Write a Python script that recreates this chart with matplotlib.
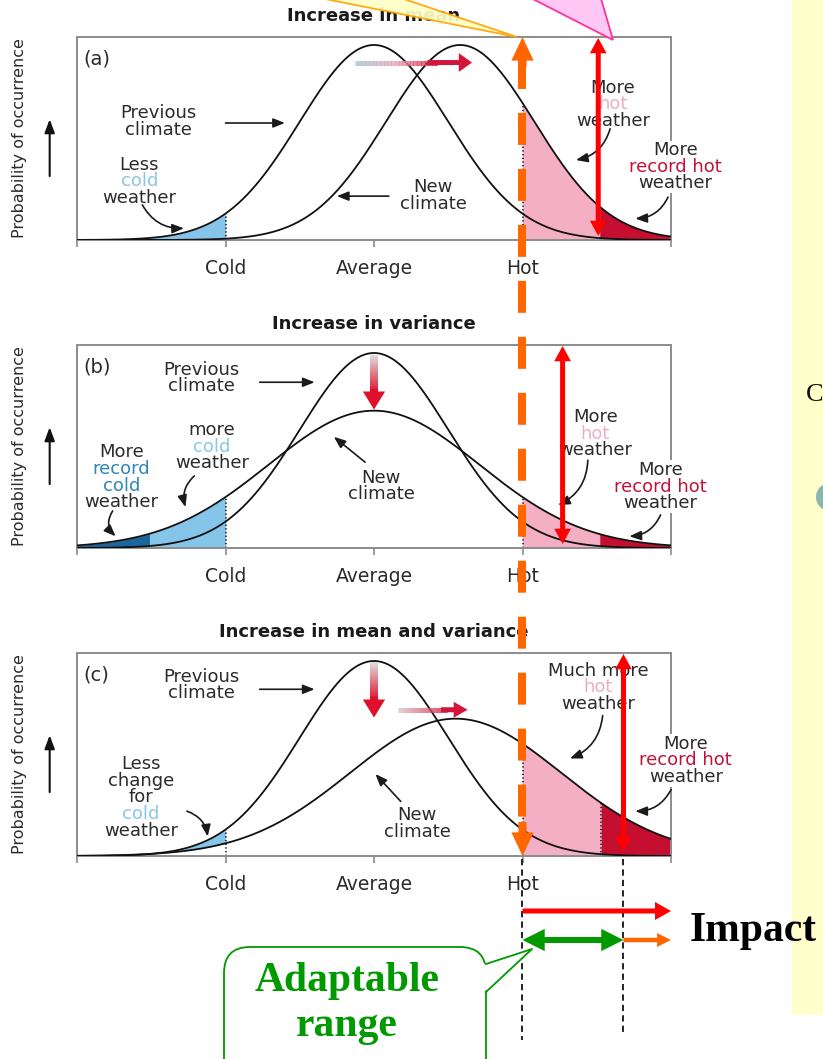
import numpy as np
import matplotlib.pyplot as plt
from matplotlib.patches import FancyArrowPatch, ArrowStyle, Polygon, Rectangle, FancyBboxPatch, Circle
from matplotlib.collections import LineCollection
from matplotlib.colors import LinearSegmentedColormap

plt.rcParams['font.family'] = ['DejaVu Sans']
plt.rcParams['lines.scale_dashes'] = False

# --- data -------------------------------------------------------------
titles = ['Increase in mean', 'Increase in variance', 'Increase in mean and variance']
tags = ['(a)', '(b)', '(c)']
prev_mean = [0.0, 0.0, 0.0]
prev_sd = [0.5, 0.5, 0.5]
new_mean = [0.58, 0.0, 0.55]
new_sd = [0.5, 0.71, 0.71]
tick_pos = [-2, -1, 0, 1, 2]
tick_names = ['', 'Cold', 'Average', 'Hot', '']
cold_end = -1.0
hot_start = 1.0
record_hot = [1.52, 1.52, 1.53]
record_cold = -1.51          # only panel (b)
impact_x = [1.51, 1.27, 1.68]  # red double arrows

# --- colours ----------------------------------------------------------
TXT = '#2b2b2b'
FRAME = '#8c8c8c'
LIGHT_BLUE = '#86c5ea'
DARK_BLUE = '#1b669f'
PINK = '#f4afc4'
DARK_RED = '#c40f30'
COLD = '#8cc6e6'
HOT = '#f0adc2'
REC_HOT = '#c4123a'
REC_COLD = '#2f86b8'
ORANGE = '#ff6600'
GREEN = '#009900'

W, H = 823, 1059
fig = plt.figure(figsize=(W / 100, H / 100), dpi=100)
fig.patch.set_facecolor('white')


def bell(x, mu, sd, amp):
    return amp * np.exp(-(x - mu) ** 2 / (2 * sd ** 2))


def stacked(ax, x, y, lines, colors, bg=False, lh=0.085):
    for k, (s, c) in enumerate(zip(lines, colors)):
        kw = {}
        if bg:
            kw['bbox'] = dict(fc='white', ec='none', pad=0.5)
        ax.text(x, y - k * lh, s, color=c, fontsize=13, ha='center', va='center', zorder=6, **kw)


def pointer(ax, tail, tip, rad=0.0):
    ax.annotate('', xy=tip, xytext=tail,
                arrowprops=dict(arrowstyle='-|>,head_length=0.7,head_width=0.28',
                                connectionstyle=f'arc3,rad={rad}', color='#1a1a1a', lw=1.2,
                                shrinkA=0, shrinkB=0), zorder=6)


def solid_arrow(ax, p0, p1, color, tw, hw, hl, z=7):
    ax.add_patch(FancyArrowPatch(p0, p1, arrowstyle=ArrowStyle.Simple(head_length=hl, head_width=hw, tail_width=tw),
                                 mutation_scale=1, fc=color, ec='none', lw=0, shrinkA=0, shrinkB=0, zorder=z))


def double_arrow(ax, p0, p1, color, tw, hw, hl, z=7):
    mid = ((p0[0] + p1[0]) / 2, (p0[1] + p1[1]) / 2)
    solid_arrow(ax, mid, p0, color, tw, hw, hl, z)
    solid_arrow(ax, mid, p1, color, tw, hw, hl, z)


def grad_arrow(ax, p0, p1, cols, tw, hw, hl):
    cmap = LinearSegmentedColormap.from_list('g', cols)
    n = 60
    t = np.linspace(0, 0.7, n + 1)
    pts = np.column_stack([p0[0] + t * (p1[0] - p0[0]), p0[1] + t * (p1[1] - p0[1])])
    segs = np.stack([pts[:-1], pts[1:]], axis=1)
    lc = LineCollection(segs, colors=cmap(np.linspace(0, 1, n)), linewidths=tw, capstyle='butt', zorder=5)
    ax.add_collection(lc)
    pa = (p0[0] + 0.62 * (p1[0] - p0[0]), p0[1] + 0.62 * (p1[1] - p0[1]))
    solid_arrow(ax, pa, p1, cols[-1], tw, hw, hl, z=5)


# --- panels -----------------------------------------------------------
ax_left, ax_w, ax_h = 77, 594, 203
ax_tops = [37, 345, 653]
x = np.linspace(-2, 2, 801)
axes = []
for i, top in enumerate(ax_tops):
    ax = fig.add_axes([ax_left / W, 1 - (top + ax_h) / H, ax_w / W, ax_h / H])
    axes.append(ax)
    ax.set_xlim(-2, 2)
    ax.set_ylim(0, 1.041)
    amp_new = prev_sd[i] / new_sd[i]
    prev = bell(x, prev_mean[i], prev_sd[i], 1.0)
    new = bell(x, new_mean[i], new_sd[i], amp_new)

    if i == 1:
        ax.fill_between(x, 0, new, where=x <= record_cold + 0.003, color=DARK_BLUE, lw=0)
        ax.fill_between(x, 0, new, where=(x >= record_cold) & (x <= cold_end), color=LIGHT_BLUE, lw=0)
    else:
        ax.fill_between(x, new, prev, where=x <= cold_end, color=LIGHT_BLUE, lw=0)
    ax.fill_between(x, 0, new, where=(x >= hot_start) & (x <= record_hot[i] + 0.003), color=PINK, lw=0)
    ax.fill_between(x, 0, new, where=x >= record_hot[i], color=DARK_RED, lw=0)

    top_cold = max(bell(cold_end, prev_mean[i], prev_sd[i], 1.0), bell(cold_end, new_mean[i], new_sd[i], amp_new))
    ax.plot([cold_end, cold_end], [0, top_cold], ls=':', color='#222', lw=1.2)
    ax.plot([hot_start, hot_start], [0, bell(hot_start, new_mean[i], new_sd[i], amp_new)], ls=':', color='#222', lw=1.2)
    if i == 2:
        ax.plot([record_hot[i]] * 2, [0, bell(record_hot[i], new_mean[i], new_sd[i], amp_new)],
                ls=':', color='#222', lw=1.2)

    ax.plot(x, prev, color='#111', lw=1.3, zorder=4)
    ax.plot(x, new, color='#111', lw=1.3, zorder=4)

    for s in ax.spines.values():
        s.set_color(FRAME)
        s.set_linewidth(1.4)
    ax.set_xticks(tick_pos, tick_names)
    ax.tick_params(axis='x', length=5, width=1.2, color=FRAME, labelsize=13.5, pad=8.5, labelcolor=TXT)
    ax.set_yticks([])

    ax.text(0.5, 1.105, titles[i], transform=ax.transAxes, ha='center', va='center',
            fontweight='bold', fontsize=13, color='#1a1a1a')
    ax.text(-1.96, 0.93, tags[i], fontsize=14, ha='left', va='center', color=TXT)
    ax.text(-0.096, 0.5, 'Probability of occurrence', rotation=90, transform=ax.transAxes,
            ha='center', va='center', fontsize=11.5, color=TXT)
    ax.annotate('', xy=(-0.046, 0.595), xytext=(-0.046, 0.315), xycoords='axes fraction',
                arrowprops=dict(arrowstyle='-|>,head_length=0.8,head_width=0.3', color='#111', lw=1.5,
                                shrinkA=0, shrinkB=0))

# panel (a) labels
ax = axes[0]
stacked(ax, -1.45, 0.65, ['Previous', 'climate'], [TXT, TXT])
pointer(ax, (-1.0, 0.60), (-0.60, 0.60))
stacked(ax, -1.58, 0.385, ['Less', 'cold', 'weather'], [TXT, COLD, TXT])
pointer(ax, (-1.56, 0.18), (-1.28, 0.06), 0.3)
stacked(ax, 0.40, 0.27, ['New', 'climate'], [TXT, TXT])
pointer(ax, (0.10, 0.225), (-0.25, 0.225))
stacked(ax, 1.61, 0.78, ['More', 'hot', 'weather'], [TXT, HOT, TXT])
pointer(ax, (1.59, 0.57), (1.36, 0.41), -0.3)
stacked(ax, 2.03, 0.46, ['More', 'record hot', 'weather'], [TXT, REC_HOT, TXT], bg=True)
pointer(ax, (1.98, 0.22), (1.76, 0.11), -0.3)
grad_arrow(ax, (-0.13, 0.91), (0.66, 0.91), ['#a8c6de', '#e8a4b4', '#d4153a'], 3.6, 13.5, 9.5)

# panel (b) labels
ax = axes[1]
stacked(ax, -1.16, 0.915, ['Previous', 'climate'], [TXT, TXT])
pointer(ax, (-0.77, 0.85), (-0.40, 0.85))
stacked(ax, -1.09, 0.605, ['more', 'cold', 'weather'], [TXT, COLD, TXT])
pointer(ax, (-1.21, 0.37), (-1.27, 0.21), 0.3)
stacked(ax, -1.70, 0.49, ['More', 'record', 'cold', 'weather'], [TXT, REC_COLD, REC_COLD, TXT])
pointer(ax, (-1.76, 0.19), (-1.74, 0.06), 0.4)
stacked(ax, 0.05, 0.36, ['New', 'climate'], [TXT, TXT])
pointer(ax, (-0.06, 0.44), (-0.27, 0.57))
stacked(ax, 1.49, 0.67, ['More', 'hot', 'weather'], [TXT, HOT, TXT])
pointer(ax, (1.44, 0.45), (1.24, 0.22), -0.3)
stacked(ax, 1.93, 0.40, ['More', 'record hot', 'weather'], [TXT, REC_HOT, TXT], bg=True)
pointer(ax, (1.93, 0.17), (1.72, 0.06), -0.3)
grad_arrow(ax, (0, 0.99), (0, 0.71), ['#dedede', '#e0102c'], 5.8, 16, 13)

# panel (c) labels
ax = axes[2]
stacked(ax, -1.16, 0.92, ['Previous', 'climate'], [TXT, TXT])
pointer(ax, (-0.77, 0.855), (-0.40, 0.855))
stacked(ax, -1.57, 0.47, ['Less', 'change', 'for', 'cold', 'weather'], [TXT, TXT, TXT, COLD, TXT])
pointer(ax, (-1.26, 0.23), (-1.12, 0.10), -0.3)
stacked(ax, 0.29, 0.21, ['New', 'climate'], [TXT, TXT])
pointer(ax, (0.18, 0.28), (0.01, 0.42))
stacked(ax, 1.51, 0.95, ['Much more', 'hot', 'weather'], [TXT, HOT, TXT])
pointer(ax, (1.54, 0.72), (1.32, 0.50), -0.3)
stacked(ax, 2.10, 0.575, ['More', 'record hot', 'weather'], [TXT, REC_HOT, TXT], bg=True)
pointer(ax, (2.0, 0.34), (1.76, 0.23), -0.3)
grad_arrow(ax, (0, 0.995), (0, 0.71), ['#dedede', '#e0102c'], 5.8, 16, 13)
grad_arrow(ax, (0.16, 0.75), (0.63, 0.75), ['#dcc4c8', '#d4153a'], 3.6, 11.5, 10)

# --- overlay in pixel coordinates -------------------------------------
ov = fig.add_axes([0, 0, 1, 1], zorder=10)
ov.set_xlim(0, W)
ov.set_ylim(H, 0)
ov.set_axis_off()
ov.patch.set_alpha(0)


def to_px(a, xv, yv):
    d = a.transData.transform((xv, yv))
    return ov.transData.inverted().transform(d)


# yellow slide panel on the right
ov.add_patch(Rectangle((792, -5), 40, 1020, fc='#ffffcc', ec='none', zorder=1))
ov.text(806, 395, 'C', family='Liberation Serif', fontsize=19, ha='left', va='center', color='#111', zorder=2)
ov.add_patch(Circle((830, 497), 14, fc='#8ab6b0', ec='none', zorder=2))

# callout wedges at the top
ov.add_patch(Polygon([(305, -5), (392, -5), (517, 37)], closed=True, fc='#ffffc8', ec='#ffa500', lw=1.3,
                     alpha=0.92, zorder=3))
ov.add_patch(Polygon([(525, -5), (600, -5), (613, 40)], closed=True, fc='#ffc8f4', ec='#ff3399', lw=1.3,
                     zorder=3))

# orange dashed threshold line
xo = to_px(axes[0], hot_start, 0)[0]
y_top = ax_tops[0]
y_bot = ax_tops[2] + ax_h
ov.plot([xo, xo], [y_top + 20, y_bot - 27], color=ORANGE, lw=5.8, dashes=[23, 17.3], solid_capstyle='butt',
        dash_capstyle='butt', zorder=8)
solid_arrow(ov, (xo, y_top + 30), (xo, y_top), ORANGE, 5.8, 16, 17, z=9)
solid_arrow(ov, (xo, y_bot - 34), (xo, y_bot), ORANGE, 5.8, 16, 17, z=9)

# red double arrows in each panel
for i, a in enumerate(axes):
    xr = to_px(a, impact_x[i], 0)[0]
    double_arrow(ov, (xr, ax_tops[i] + 1), (xr, ax_tops[i] + ax_h - 4), 'red', 3.6, 12, 11, z=9)

# dashed guides and range arrows below panel (c)
x_hot = to_px(axes[2], hot_start, 0)[0]
x_imp = to_px(axes[2], impact_x[2], 0)[0]
x_end = to_px(axes[2], 2, 0)[0]
for xv, yb in [(x_hot, 1040), (x_imp, 1035)]:
    ov.plot([xv, xv], [y_bot + 3, yb], color='#111', lw=1.3, dashes=[4.5, 3], zorder=5)
solid_arrow(ov, (x_hot, 911), (x_end, 911), 'red', 3.6, 13, 11.5)
solid_arrow(ov, (x_imp, 940), (x_end, 940), ORANGE, 3.2, 10, 10)
double_arrow(ov, (x_hot, 940), (x_imp, 940), GREEN, 4.3, 16, 16, z=8)
ov.text(690, 941, 'Impact', family='Liberation Serif', fontweight='bold', fontsize=30,
        ha='left', va='baseline', color='black', zorder=9)

# "Adaptable range" callout
ov.add_patch(FancyBboxPatch((224, 947), 262, 140, boxstyle='round,pad=0,rounding_size=26',
                            fc='white', ec=GREEN, lw=1.3, zorder=5))
ov.add_patch(Polygon([(484, 964), (532, 949), (484, 992)], closed=True, fc='white', ec='none', zorder=6))
ov.plot([486, 532, 486], [964, 949, 992], color=GREEN, lw=1.3, zorder=6)
ov.text(347, 981, 'Adaptable', family='Liberation Serif', fontweight='bold', fontsize=30,
        ha='center', va='center', color=GREEN, zorder=7)
ov.text(347, 1026, 'range', family='Liberation Serif', fontweight='bold', fontsize=30,
        ha='center', va='center', color=GREEN, zorder=7)

fig.savefig('out.png', dpi=100)
